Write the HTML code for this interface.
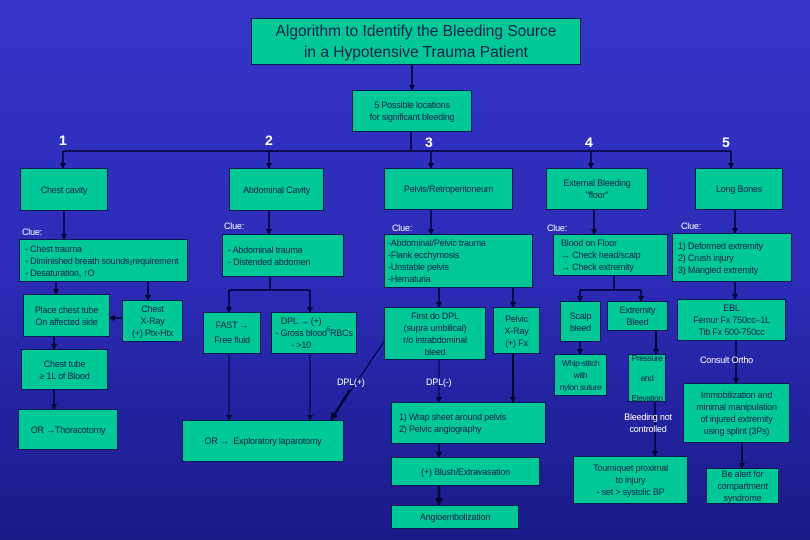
<!DOCTYPE html>
<html><head><meta charset="utf-8"><style>
body{margin:0}
#c{position:relative;width:810px;height:540px;overflow:hidden;background:linear-gradient(180deg,#3434c8 0%,#2c2cb8 50%,#1a1a88 100%);font-family:"Liberation Sans",Arial,sans-serif}
.b{position:absolute;background:#00c896;border:1px solid #0a1a50;box-sizing:border-box;display:flex;align-items:center;justify-content:center;text-align:center;color:#10204a;font-size:9px;line-height:12px;white-space:nowrap;letter-spacing:-0.2px}
.l{justify-content:flex-start;text-align:left;padding-left:5px}
.t{position:absolute;color:#fff;font-size:9px;line-height:12px;text-align:center;white-space:nowrap;letter-spacing:-0.2px}
.n{position:absolute;color:#fff;font-weight:bold;font-size:14px}
.s{font-size:6px;position:relative}
svg{position:absolute;left:0;top:0}
</style></head><body><div id="c">
<svg width="810" height="540">
<defs><marker id="a" markerWidth="6" markerHeight="6" refX="5" refY="3" orient="auto" markerUnits="userSpaceOnUse"><path d="M0,0L6,3L0,6z" fill="#000033"/></marker>
<marker id="a2" markerWidth="8" markerHeight="8" refX="7" refY="4" orient="auto" markerUnits="userSpaceOnUse"><path d="M0,0L8,4L0,8z" fill="#000033"/></marker></defs>
<g stroke="#000033" stroke-width="1.5" fill="none">
<line x1="412" y1="65" x2="412" y2="90" marker-end="url(#a)"/>
<line x1="411" y1="132" x2="411" y2="151"/>
<line x1="63" y1="151" x2="731" y2="151"/>
<line x1="63" y1="151" x2="63" y2="168" marker-end="url(#a)"/>
<line x1="269" y1="151" x2="269" y2="168" marker-end="url(#a)"/>
<line x1="431" y1="151" x2="431" y2="168" marker-end="url(#a)"/>
<line x1="591" y1="151" x2="591" y2="168" marker-end="url(#a)"/>
<line x1="731" y1="151" x2="731" y2="168" marker-end="url(#a)"/>
<line x1="64" y1="211" x2="64" y2="239" marker-end="url(#a)"/>
<line x1="269" y1="211" x2="269" y2="234" marker-end="url(#a)"/>
<line x1="431" y1="210" x2="431" y2="234" marker-end="url(#a)"/>
<line x1="594" y1="210" x2="594" y2="234" marker-end="url(#a)"/>
<line x1="735" y1="210" x2="735" y2="233" marker-end="url(#a)"/>
<line x1="56" y1="282" x2="56" y2="294" marker-end="url(#a)"/>
<line x1="148" y1="282" x2="148" y2="300" marker-end="url(#a)"/>
<line x1="122" y1="318" x2="110" y2="318" marker-end="url(#a)"/>
<line x1="54" y1="337" x2="54" y2="349" marker-end="url(#a)"/>
<line x1="54" y1="390" x2="54" y2="409" marker-end="url(#a)"/>
<path d="M270,277V290M229,290H310"/>
<line x1="229" y1="290" x2="229" y2="312" marker-end="url(#a)"/>
<line x1="310" y1="290" x2="310" y2="312" marker-end="url(#a)"/>
<line x1="229" y1="354" x2="229" y2="420" stroke-width="1" marker-end="url(#a)"/>
<line x1="310" y1="354" x2="310" y2="420" stroke-width="1" marker-end="url(#a)"/>
<line x1="385" y1="340" x2="331" y2="420" stroke-width="1" />
<line x1="350" y1="390" x2="331" y2="420" stroke-width="2.5" marker-end="url(#a2)"/>
<line x1="439" y1="288" x2="439" y2="307" marker-end="url(#a)"/>
<line x1="513" y1="288" x2="513" y2="307" marker-end="url(#a)"/>
<line x1="439" y1="360" x2="439" y2="402" stroke-width="1" marker-end="url(#a)"/>
<line x1="513" y1="354" x2="513" y2="402" stroke-width="2" marker-end="url(#a)"/>
<line x1="439" y1="444" x2="439" y2="457" marker-end="url(#a)"/>
<line x1="439" y1="486" x2="439" y2="505" stroke-width="2.5" marker-end="url(#a2)"/>
<path d="M614,276V290M580,290H641"/>
<line x1="580" y1="290" x2="580" y2="301" marker-end="url(#a)"/>
<line x1="641" y1="290" x2="641" y2="301" marker-end="url(#a)"/>
<line x1="580" y1="342" x2="580" y2="354" marker-end="url(#a)"/>
<line x1="656" y1="331" x2="656" y2="354" stroke-width="2" marker-end="url(#a)"/>
<line x1="655" y1="402" x2="655" y2="456" stroke-width="1.5" marker-end="url(#a)"/>
<line x1="735" y1="282" x2="735" y2="299" marker-end="url(#a)"/>
<line x1="736" y1="341" x2="736" y2="383" marker-end="url(#a)"/>
<line x1="742" y1="443" x2="742" y2="468" marker-end="url(#a)"/>
</g></svg>
<div class="b" style="left:251px;top:18px;width:330px;height:47px;font-size:15.5px;line-height:21px;letter-spacing:0">Algorithm to Identify the Bleeding Source<br>in a Hypotensive Trauma Patient</div>
<div class="b" style="left:352px;top:90px;width:120px;height:42px">5 Possible locations<br>for significant bleeding</div>
<div class="n" style="left:59px;top:132px">1</div>
<div class="n" style="left:265px;top:132px">2</div>
<div class="n" style="left:425px;top:134px">3</div>
<div class="n" style="left:585px;top:134px">4</div>
<div class="n" style="left:722px;top:134px">5</div>
<div class="b" style="left:20px;top:168px;width:88px;height:43px">Chest cavity</div>
<div class="b" style="left:229px;top:168px;width:95px;height:43px">Abdominal Cavity</div>
<div class="b" style="left:384px;top:168px;width:129px;height:42px">Pelvis/Retroperitoneum</div>
<div class="b" style="left:546px;top:168px;width:102px;height:42px">External Bleeding<br>"floor"</div>
<div class="b" style="left:695px;top:168px;width:88px;height:42px">Long Bones</div>
<div class="t" style="left:22px;top:226px">Clue:</div>
<div class="t" style="left:224px;top:220px">Clue:</div>
<div class="t" style="left:392px;top:222px">Clue:</div>
<div class="t" style="left:547px;top:222px">Clue:</div>
<div class="t" style="left:681px;top:220px">Clue:</div>
<div class="b l" style="left:19px;top:239px;width:169px;height:43px">- Chest trauma<br>- Diminished breath sounds<br>- Desaturation, ↑O<span class="s" style="top:3px">2</span> requirement</div>
<div class="b l" style="left:222px;top:234px;width:122px;height:43px">- Abdominal trauma<br>- Distended abdomen</div>
<div class="b l" style="left:384px;top:234px;width:149px;height:54px;padding-left:3px">-Abdominal/Pelvic trauma<br>-Flank ecchymosis<br>-Unstable pelvis<br>-Hematuria</div>
<div class="b l" style="left:553px;top:234px;width:115px;height:42px;padding-left:7px">Blood on Floor<br>→ Check head/scalp<br>→ Check extremity</div>
<div class="b l" style="left:672px;top:233px;width:120px;height:49px">1) Deformed extremity<br>2) Crush injury<br>3) Mangled extremity</div>
<div class="b" style="left:23px;top:294px;width:87px;height:43px">Place chest tube<br>On affected side</div>
<div class="b" style="left:122px;top:300px;width:61px;height:42px">Chest<br>X-Ray<br>(+) Ptx-Htx</div>
<div class="b" style="left:203px;top:312px;width:58px;height:42px;line-height:15px">FAST →<br>Free fluid</div>
<div class="b" style="left:271px;top:312px;width:86px;height:42px">DPL → (+)<br>- Gross blood<br>- &gt;10<span class="s" style="top:-3px">5</span> RBCs</div>
<div class="b" style="left:384px;top:307px;width:102px;height:53px">First do DPL<br>(supra umbilical)<br>r/o intrabdominal<br>bleed</div>
<div class="b" style="left:493px;top:307px;width:47px;height:47px">Pelvic<br>X-Ray<br>(+) Fx</div>
<div class="b" style="left:560px;top:301px;width:41px;height:41px">Scalp<br>bleed</div>
<div class="b" style="left:607px;top:301px;width:61px;height:30px">Extremity<br>Bleed</div>
<div class="b" style="left:677px;top:299px;width:109px;height:42px">EBL<br>Femur Fx 750cc–1L<br>Tib Fx 500-750cc</div>
<div class="b" style="left:21px;top:349px;width:87px;height:41px">Chest tube<br>≥ 1L of Blood</div>
<div class="b" style="left:18px;top:409px;width:100px;height:41px">OR →Thoracotomy</div>
<div class="b" style="left:182px;top:420px;width:162px;height:42px">OR →&nbsp; Exploratory laparotomy</div>
<div class="t" style="left:337px;top:376px">DPL(+)</div>
<div class="t" style="left:426px;top:376px">DPL(-)</div>
<div class="b l" style="left:391px;top:402px;width:155px;height:42px;padding-left:7px">1) Wrap sheet around pelvis<br>2) Pelvic angiography</div>
<div class="b" style="left:391px;top:457px;width:149px;height:29px">(+) Blush/Extravasation</div>
<div class="b" style="left:391px;top:505px;width:128px;height:24px">Angioembolization</div>
<div class="b" style="left:554px;top:354px;width:53px;height:42px;font-size:8.5px;letter-spacing:-0.4px">Whip-stitch<br>with<br>nylon suture</div>
<div class="b" style="left:628px;top:354px;width:38px;height:48px;line-height:20px;font-size:8.5px;letter-spacing:-0.4px">Pressure<br>and<br>Elevation</div>
<div class="t" style="left:612px;top:411px;width:72px">Bleeding not<br>controlled</div>
<div class="t" style="left:700px;top:354px">Consult Ortho</div>
<div class="b" style="left:573px;top:456px;width:115px;height:48px">Tourniquet proximal<br>to injury<br>- set &gt; systolic BP</div>
<div class="b" style="left:683px;top:383px;width:107px;height:60px">Immobilization and<br>minimal manipulation<br>of injured extremity<br>using splint (3Ps)</div>
<div class="b" style="left:706px;top:468px;width:73px;height:36px">Be alert for<br>compartment<br>syndrome</div>
</div></body></html>
